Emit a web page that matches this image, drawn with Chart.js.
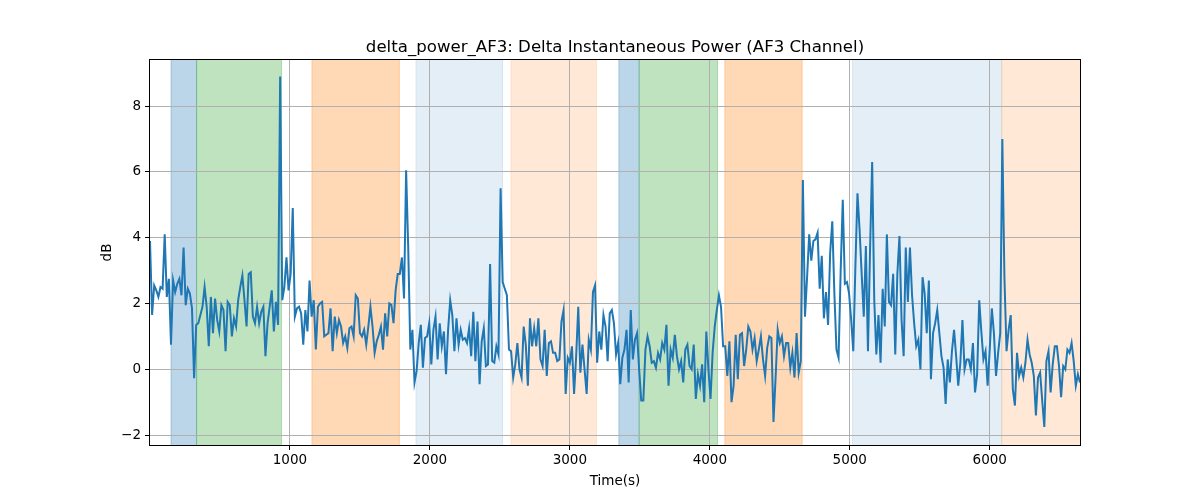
<!DOCTYPE html>
<html>
<head>
<meta charset="utf-8">
<title>delta_power_AF3</title>
<script src="https://cdn.jsdelivr.net/npm/chart.js"></script>
<style>
  html, body { margin: 0; padding: 0; background: #fff; }
  #wrap { width: 1200px; height: 500px; }
</style>
</head>
<body>
<div id="wrap"><canvas id="c" width="1200" height="500"></canvas></div>
<script>
// sample spacing of the recording (s)
const startTime = 0;
const stepTime = 15;

// dB values (left -> right)
const dbPart1 = [
  3.9, 1.65, 2.55, 2.4, 2.2, 2.5, 2.45, 4.1, 2.2, 2.75,
  0.75, 2.7, 2.35, 2.6, 2.75, 2.25, 3.7, 1.95, 2.45, 2.3,
  1.85, -0.27, 1.35, 1.4, 1.65, 1.9, 2.5, 1.9, 0.7, 2.2,
  1.1, 2.15, 1.5, 1.15, 1.95, 1.8, 0.55, 2.05, 1.95, 1.0,
  1.55, 1.3, 2.1, 2.5, 2.85, 2.1, 1.3, 2.9, 2.95, 1.6,
  1.4, 1.9, 1.4, 1.75, 1.9, 0.4, 1.4, 1.9, 2.4, 1.15,
  2.05, 1.35, 8.9, 2.1, 2.5, 3.4, 2.4, 2.9, 4.9, 1.6,
  1.85, 1.9, 1.7, 0.75
];
const dbPart2 = [
  1.8, 1.15, 2.7, 1.6, 2.1, 0.6, 1.9, 2.0, 2.05, 1.0,
  1.05, 1.1, 1.85, 0.55, 1.6, 1.1, 1.5, 1.3, 0.8, 1.0,
  0.65, 1.25, 1.3, 1.0, 2.25, 2.15, 1.1, 1.0, 1.2, 0.75,
  1.3, 1.9, 1.3, 0.5, 0.85, 1.05, 1.3, 0.6, 1.7, 1.0,
  2.0, 1.95, 1.4, 2.4, 2.9, 2.9, 3.4, 2.15, 6.05, 3.7,
  0.6, 1.2, -0.4, -0.05, 0.8, 1.35, 0.05, 0.95, 1.0, 1.4,
  0.15, 1.2, 1.6, 0.3, 1.4, 0.7, 1.15, -0.15, 1.2, 2.1,
  1.65, 0.55, 1.55, 0.75, 1.2
];
const dbPart3 = [
  0.9, 0.95, 0.8, 1.25, 0.4, 1.75, 0.25, 1.45, -0.45, 0.85,
  1.25, 0.1, 0.15, 3.2, 0.25, 0.2, 0.7, 0.45, 5.5, 2.65,
  2.45, 2.25, 0.6, 0.55, -0.25, 0.15, 0.8, 0.0, -0.25, 1.3,
  0.75, -0.5, 1.55, 0.7, 1.25, 0.7, 1.55, 0.3, 0.1, 1.2,
  -0.2, 0.8, 0.85, 0.5, 0.5, 0.25, 0.3, 1.45, 1.8, -0.75,
  0.35, 0.2, 0.7, -0.75, 0.4, 1.9, -0.1, 0.75, 0.0, -0.75,
  0.9, 0.6, 2.35, 2.55, 0.2, 1.15, 0.6, 1.65, 1.3, 0.25,
  1.7, 1.8
];
const dbPart4 = [
  1.4, 0.45, 0.8, -0.45, 0.35, 0.6, 1.2, -0.4, 1.8, 0.3,
  0.9, 1.1, 0.0, -0.95, -0.95, 0.6, 1.0, 0.7, 0.2, 0.25,
  0.05, 0.5, 0.3, 0.8, 0.6, 1.35, -0.5, 0.6, 0.35, 1.05,
  0.4, 0.0, 0.25, -0.4, 0.6, 0.75, 0.1, 0.0, 0.75, -0.9,
  -0.15, -0.5, 0.15, -1.0, 1.15, 0.0, -0.9, 0.5, 1.3, 1.8,
  2.25, 1.9, 0.7, 0.7, -0.2, 0.85, -1.0, -0.5, 1.05, -0.3,
  1.05, 1.1, 0.1, 0.6, 1.3, 1.15, 0.6, 0.95, 0.25, 0.6,
  1.0, 0.3, -0.2, 0.65, 1.0
];
const dbPart5 = [
  0.95, -1.6, -0.25, 1.2, 0.8, 1.0, 0.4, 0.8, 0.8, 0.05,
  0.5, -0.25, 1.1, -0.1, 0.25, 5.75, 1.6, 2.8, 4.1, 3.3,
  3.9, 3.95, 4.15, 2.45, 3.45, 1.55, 2.35, 1.35, 3.55, 4.5,
  2.3, 0.6, 0.35, 3.0, 5.15, 2.6, 2.65, 2.3, 1.5, 0.55,
  3.1, 5.35, 4.25, 2.9, 1.6, 3.75, 0.55, 3.65, 6.3, 2.1,
  0.45, 1.65, 0.2, 2.45, 1.3, 4.1, 2.05, 1.95, 2.9, 0.45,
  2.9, 4.05, 1.5, 0.4, 3.7, 2.05, 3.7, 2.25, 1.4, 0.7,
  0.9, 0.0, 2.8, 2.3
];
const dbPart6 = [
  1.1, 2.7, -0.3, 1.1, 1.4, 1.8, 1.1, 0.4, 0.05, -1.05,
  0.3, -0.4, 0.55, 1.2, 0.4, -0.5, 0.2, 1.5, 0.0, 0.3,
  0.3, 0.0, 0.8, -0.7, -0.15, 2.1, 1.15, 0.3, 0.55, -0.5,
  0.6, 1.85, 1.1, -0.2, 0.5, 1.1, 7.0, 2.8, 0.55, 1.2,
  1.65, -0.6, -1.1, 0.5, -0.2, 0.05, -0.25, 0.2, 0.9, 0.45,
  0.2, -0.2, -1.4, -0.25, -0.1, -0.95, -1.75, 0.25, 0.55, -0.7,
  0.15, 0.7, 0.7, 0.1, -0.85, 0.1, 0.0, 0.6, 0.5, 0.8,
  0.25, -0.5, -0.15, -0.4
];

// shaded phases (s)
const bandStart = [150, 333, 1157, 1900, 2579, 3350, 3495, 4107, 5019, 6086];
const bandEnd   = [333, 940, 1782, 2519, 3190, 3495, 4055, 4660, 6086, 6660];
const bandKind  = ['b', 'g', 'o', 'lb', 'lo', 'b', 'g', 'o', 'lb', 'lo'];

const xTicks = [1000, 2000, 3000, 4000, 5000, 6000];
const yTicks = [-2, 0, 2, 4, 6, 8];
const yMin = -2.3, yMax = 9.4;

const bandFill = {
  b:  'rgba(31,119,180,0.3)',
  g:  'rgba(44,160,44,0.3)',
  o:  'rgba(255,127,14,0.3)',
  lb: 'rgba(31,119,180,0.12)',
  lo: 'rgba(255,127,14,0.17)'
};

const dbValues = [].concat(dbPart1, dbPart2, dbPart3, dbPart4, dbPart5, dbPart6);
const points = dbValues.map((v, i) => ({ x: startTime + i * stepTime, y: v }));
const xMax = points[points.length - 1].x;

const FONT = "'DejaVu Sans', sans-serif";
Chart.defaults.font.family = FONT;
Chart.defaults.color = '#000';

const decorPlugin = {
  id: 'decor',
  beforeDraw(chart) {
    const ctx = chart.ctx, a = chart.chartArea, x = chart.scales.x;
    ctx.save();
    ctx.beginPath();
    ctx.rect(a.left, a.top, a.right - a.left, a.bottom - a.top);
    ctx.clip();
    for (let i = 0; i < bandStart.length; i++) {
      const x0 = x.getPixelForValue(bandStart[i]);
      const x1 = x.getPixelForValue(bandEnd[i]);
      ctx.fillStyle = bandFill[bandKind[i]];
      ctx.fillRect(x0, a.top, x1 - x0, a.bottom - a.top);
      ctx.strokeStyle = bandFill[bandKind[i]];
      ctx.lineWidth = 1;
      ctx.beginPath();
      ctx.moveTo(x0, a.top); ctx.lineTo(x0, a.bottom);
      ctx.moveTo(x1, a.top); ctx.lineTo(x1, a.bottom);
      ctx.stroke();
    }
    ctx.restore();
  },
  afterDraw(chart) {
    const ctx = chart.ctx, a = chart.chartArea;
    ctx.save();
    ctx.strokeStyle = '#000';
    ctx.lineWidth = 1;
    ctx.strokeRect(Math.round(a.left) - 0.5, Math.round(a.top) - 0.5,
      Math.round(a.right - a.left) + 1, Math.round(a.bottom - a.top) + 1);

    ctx.fillStyle = '#000';
    ctx.textAlign = 'center';
    ctx.textBaseline = 'alphabetic';
    ctx.font = '16.6px ' + FONT;
    ctx.fillText('delta_power_AF3: Delta Instantaneous Power (AF3 Channel)', (a.left + a.right) / 2, 52);
    ctx.font = '13.5px ' + FONT;
    ctx.fillText('Time(s)', (a.left + a.right) / 2, 485);
    ctx.translate(111, (a.top + a.bottom) / 2);
    ctx.rotate(-Math.PI / 2);
    ctx.fillText('dB', 0, 0);
    ctx.restore();
  }
};

new Chart(document.getElementById('c'), {
  type: 'line',
  data: {
    datasets: [{
      data: points,
      borderColor: '#1f77b4',
      borderWidth: 2,
      pointRadius: 0,
      tension: 0,
      fill: false
    }]
  },
  options: {
    responsive: false,
    animation: false,
    devicePixelRatio: 1,
    layout: { padding: { left: 0, right: 120, top: 60, bottom: 0 } },
    plugins: { legend: { display: false }, title: { display: false }, tooltip: { enabled: false } },
    scales: {
      x: {
        type: 'linear',
        min: startTime,
        max: xMax,
        afterBuildTicks: s => { s.ticks = xTicks.map(v => ({ value: v })); },
        afterFit: s => { s.height = 55; },
        grid: { color: '#b0b0b0', lineWidth: 1, tickLength: 5, tickColor: '#000' },
        border: { display: false },
        ticks: { font: { size: 13.5 }, padding: 2, maxRotation: 0, callback: v => String(v) }
      },
      y: {
        min: yMin,
        max: yMax,
        afterBuildTicks: s => { s.ticks = yTicks.map(v => ({ value: v })); },
        afterFit: s => { s.width = 150; },
        grid: { color: '#b0b0b0', lineWidth: 1, tickLength: 5, tickColor: '#000' },
        border: { display: false },
        ticks: { font: { size: 13.5 }, padding: 4, callback: v => String(v).replace('-', '\u2212') }
      }
    }
  },
  plugins: [decorPlugin]
});
</script>
</body>
</html>
